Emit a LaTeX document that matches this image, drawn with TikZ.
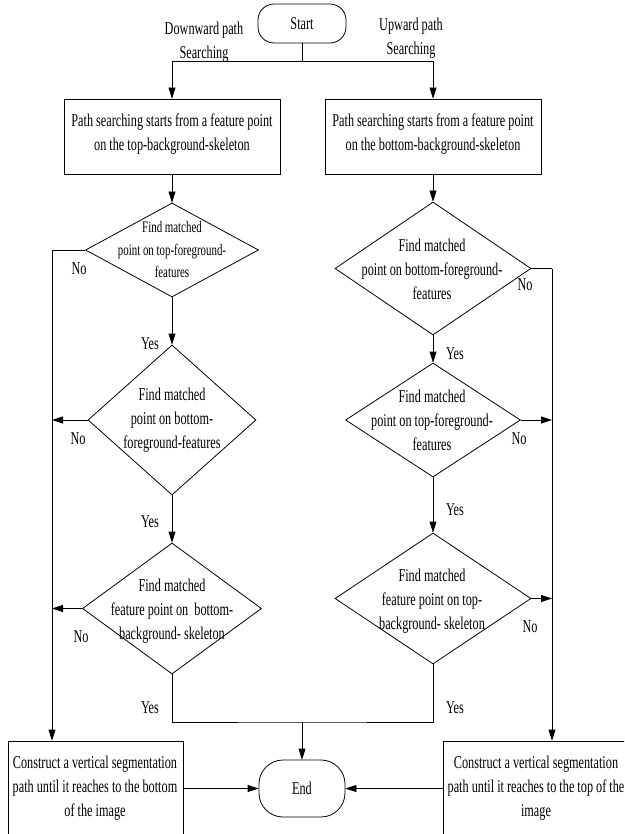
\documentclass[tikz,border=0pt]{standalone}
\usepackage{fontspec}
\setmainfont{Liberation Serif}[FakeStretch=0.68]
\usetikzlibrary{arrows.meta,shapes.geometric}
\tikzset{
  base/.style={draw=black, line width=0.8pt},
  txt/.style={align=center, inner sep=0pt, font=\fontsize{18}{24}\selectfont},
  smalltxt/.style={align=center, inner sep=0pt, font=\fontsize{16}{22.5}\selectfont},
  term/.style={base, rounded corners=16pt, inner sep=0pt},
  procbox/.style={base, rectangle, inner sep=0pt},
  dia/.style={base, diamond, inner sep=0pt},
  lbl/.style={inner sep=0pt, font=\fontsize{18}{20}\selectfont},
  conn/.style={line width=0.8pt, draw=black},
  arr/.style={conn, -{Triangle[length=11pt,width=7pt]}},
}
\begin{document}
\begin{tikzpicture}[x=1pt,y=-1pt]
\useasboundingbox (0,0) rectangle (624,834);
\fill[white] (0,0) rectangle (624,834);
\clip (0,0) rectangle (624,834);

% terminals
\node[term, minimum width=88pt, minimum height=39pt] (start) at (302,23.5) {};
\node[txt] (starttxt) at (start) {Start};
\node[term, rounded corners=24pt, minimum width=86pt, minimum height=57pt] (end) at (302,788.5) {};
\node[txt] (endtxt) at (end) {End};

% process boxes
\node[procbox, minimum width=216pt, minimum height=75pt] (box1) at (172,136.5) {};
\node[txt] (box1txt) at (172,134.5) {Path searching starts from a feature point\\on the top-background-skeleton};
\node[procbox, minimum width=216pt, minimum height=75pt] (box2) at (433,136.5) {};
\node[txt] (box2txt) at (433,134.5) {Path searching starts from a feature point\\on the bottom-background-skeleton};
\node[procbox, minimum width=175pt, minimum height=96pt] (box3) at (95.5,789) {};
\node[txt] (box3txt) at (95,788) {Construct a vertical segmentation\\path until it reaches to the bottom\\of the image};
\node[procbox, minimum width=188pt, minimum height=96pt] (box4) at (537,789) {};
\node[txt] (box4txt) at (536,788) {Construct a vertical segmentation\\path until it reaches to the top of the\\image};

% decisions (left)
\node[dia, minimum width=173pt, minimum height=94pt] (d1) at (172,250) {};
\node[smalltxt] (d1txt) at (172,250) {Find matched\\point on top-foreground-\\features};
\node[dia, minimum width=168pt, minimum height=150pt] (d2) at (172,420) {};
\node[txt] (d2txt) at (172,420) {Find matched\\point on bottom-\\foreground-features};
\node[dia, minimum width=179pt, minimum height=131pt] (d3) at (172,608.5) {};
\node[txt] (d3txt) at (172,611) {Find matched\\feature point on\ \ bottom-\\background- skeleton};

% decisions (right)
\node[dia, minimum width=196pt, minimum height=133pt] (d4) at (433,268.5) {};
\node[txt] (d4txt) at (432,269) {Find matched\\point on bottom-foreground-\\features};
\node[dia, minimum width=175pt, minimum height=114pt] (d5) at (433,420) {};
\node[txt] (d5txt) at (432,420) {Find matched\\point on top-foreground-\\features};
\node[dia, minimum width=196pt, minimum height=131pt] (d6) at (433,598.5) {};
\node[txt] (d6txt) at (432,601) {Find matched\\feature point on top-\\background- skeleton};

% side labels
\node[txt] (down) at (204,42) {Downward path\\Searching};
\node[txt] (up) at (411,38) {Upward path\\Searching};

% coordinates
\coordinate (split) at (302,61);
\coordinate (L1) at (52,250);
\coordinate (R1) at (552,268.5);
\coordinate (join) at (302,722);

% connectors top
\draw[conn] (start.south) -- (split);
\draw[arr] (split) -| (box1.north);
\draw[arr] (split) -| (box2.north);
\draw[arr] (box1.south) -- (d1.north);
\draw[arr] (box2.south) -- (d4.north);

% left column
\draw[arr] (d1.south) -- (d2.north);
\draw[arr] (d2.south) -- (d3.north);
\draw[conn] (d1.west) -- (L1);
\draw[arr] (L1) -- (L1 |- box3.north);
\draw[arr] (d2.west) -- (d2.west -| L1);
\draw[arr] (d3.west) -- (d3.west -| L1);

% right column
\draw[arr] (d4.south) -- (d5.north);
\draw[arr] (d5.south) -- (d6.north);
\draw[conn] (d4.east) -- (R1);
\draw[arr] (R1) -- (R1 |- box4.north);
\draw[arr] (d5.east) -- (d5.east -| R1);
\draw[arr] (d6.east) -- (d6.east -| R1);

% join to end
\draw[conn] (d3.south) |- (join) -| (d6.south);
\draw[arr] (join) -- (end.north);
\draw[arr] (box3.east |- end.west) -- (end.west);
\draw[arr] (box4.west |- end.east) -- (end.east);

% yes / no labels
\node[lbl] (no1) at (79,269) {No};
\node[lbl] (no2) at (78,439) {No};
\node[lbl] (no3) at (81,637) {No};
\node[lbl] (no4) at (525,285) {No};
\node[lbl] (no5) at (519,439) {No};
\node[lbl] (no6) at (530,627) {No};
\node[lbl] (yes1) at (150,344) {Yes};
\node[lbl] (yes2) at (150,522) {Yes};
\node[lbl] (yes3) at (150,708) {Yes};
\node[lbl] (yes4) at (455,354) {Yes};
\node[lbl] (yes5) at (455,510) {Yes};
\node[lbl] (yes6) at (455,708) {Yes};
\end{tikzpicture}
\end{document}
